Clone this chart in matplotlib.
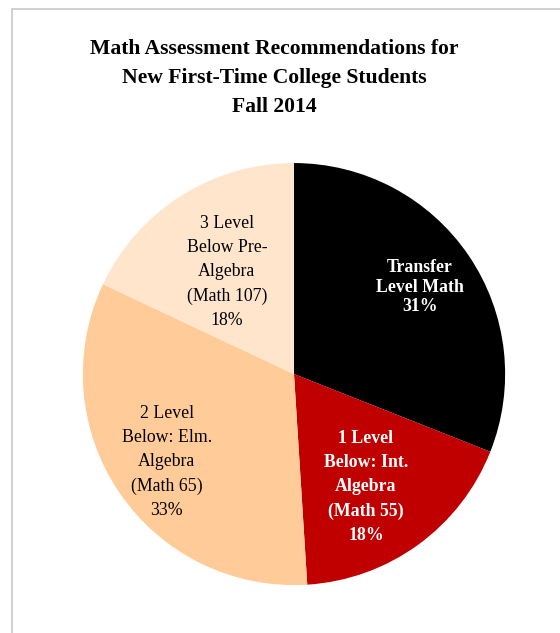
import matplotlib
matplotlib.use('Agg')
import matplotlib.pyplot as plt
from matplotlib.patches import Rectangle

# data
labels = ['Transfer\nLevel Math',
          '1 Level\nBelow: Int.\nAlgebra\n(Math 55)',
          '2 Level\nBelow: Elm.\nAlgebra\n(Math 65)',
          '3 Level\nBelow Pre-\nAlgebra\n(Math 107)']
shares = [31, 18, 33, 18]
colors = ['#000000', '#C00000', '#FFCC99', '#FFE5CC']
text_colors = ['white', 'white', 'black', 'black']
bold = [True, True, False, False]
label_pos = [(0.597, 0.412), (0.341, -0.536), (-0.602, -0.417), (-0.318, 0.483)]
spacing = [1.22, 1.55, 1.55, 1.55]

plt.rcParams['font.family'] = ['Liberation Serif', 'DejaVu Serif']

fig = plt.figure(figsize=(5.6, 6.33), dpi=100)

# chart border (cropped at right / bottom)
fig.patches.append(Rectangle((12 / 560, -0.1), 1.2, 1 - 9 / 633 + 0.1,
                             transform=fig.transFigure, fill=False,
                             edgecolor='#C8C8C8', linewidth=1.2))

fig.text(274 / 560, 1 - 78 / 633,
         'Math Assessment Recommendations for\nNew First-Time College Students\nFall 2014',
         ha='center', va='center', fontsize=15.6, fontweight='bold',
         linespacing=1.58)

ax = fig.add_axes([0.525 - 0.377, 0.409 - 0.3333, 0.754, 0.6667])
ax.pie(shares, colors=colors, startangle=90, counterclock=False, radius=1,
       wedgeprops=dict(linewidth=0))
ax.set_xlim(-1, 1)
ax.set_ylim(-1, 1)
ax.set_aspect('auto')
ax.axis('off')

for lab, v, (x, y), c, b, ls in zip(labels, shares, label_pos, text_colors,
                                    bold, spacing):
    ax.text(x, y, f'{lab}\n{v}%', ha='center', va='center', color=c,
            fontsize=12.8, fontweight='bold' if b else 'normal',
            linespacing=ls)

fig.savefig('out.png', dpi=100)
